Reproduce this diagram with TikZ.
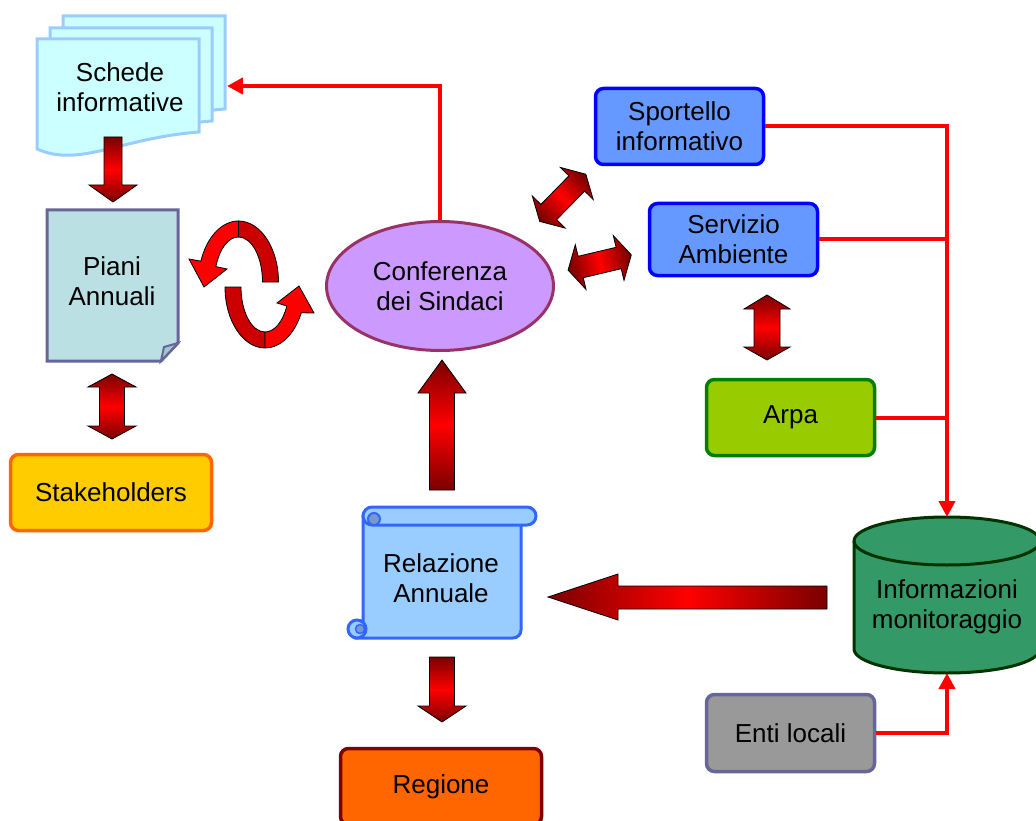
\documentclass[tikz,border=0pt]{standalone}
\usepackage{fontspec}
\setmainfont{Liberation Sans}
\usetikzlibrary{arrows.meta,shapes.geometric}
\definecolor{dkred}{HTML}{7A0000}
\definecolor{ribdark}{HTML}{CC0000}
\definecolor{schedefill}{HTML}{CCFFFF}
\definecolor{schededraw}{HTML}{99CCFF}
\definecolor{pianifill}{HTML}{BBE0E3}
\definecolor{pianifold}{HTML}{A3C7CE}
\definecolor{purpledraw}{HTML}{666699}
\definecolor{conffill}{HTML}{CC99FF}
\definecolor{confdraw}{HTML}{993366}
\definecolor{bluefill}{HTML}{6699FF}
\definecolor{arpafill}{HTML}{99CC00}
\definecolor{arpadraw}{HTML}{008000}
\definecolor{entifill}{HTML}{999999}
\definecolor{stakefill}{HTML}{FFCC00}
\definecolor{stakedraw}{HTML}{FF6600}
\definecolor{regfill}{HTML}{FF6600}
\definecolor{regdraw}{HTML}{800000}
\definecolor{relfill}{HTML}{99CCFF}
\definecolor{reldraw}{HTML}{3366FF}
\definecolor{relcurl}{HTML}{7799CC}
\definecolor{cylfill}{HTML}{339966}
\definecolor{cyldraw}{HTML}{003300}
\begin{document}
\begin{tikzpicture}[x=1pt,y=-1pt,line join=miter,
  lbl/.style={font=\fontsize{26}{30}\selectfont, align=center, inner sep=0pt},
  box/.style={lbl, draw, rounded corners=8pt, line width=3.5pt},
  redline/.style={draw=red, line width=4pt},
  redarrow/.style={redline, -{Triangle[length=16pt,width=16pt]}},
  blockV/.style={draw=black, line width=0.8pt, top color=dkred, bottom color=dkred, middle color=red},
  blockH/.style={draw=black, line width=0.8pt, left color=dkred, right color=dkred, middle color=red},
  ribbon/.style={draw=black, line width=0.8pt},
  page/.style={fill=schedefill, draw=schededraw, line width=3pt}
]
\useasboundingbox (0,0) rectangle (1036,821);

% ---- Schede informative (stack of pages)
\foreach \dx/\dy in {26/-23, 13/-11, 0/0}{
  \path[page, shift={(\dx,\dy)}] (37,39) -- (199,39) -- (199,132)
    .. controls (120,138) and (80,168) .. (37,149) -- cycle;
}
\node[lbl] (schede) at (120,87) {Schede\\informative};
\coordinate (schedeE) at (227,86);

% ---- Piani Annuali (document with folded corner)
\path[fill=pianifill, draw=purpledraw, line width=3pt]
  (47,210) -- (178,210) -- (178,343) -- (161,361) -- (47,361) -- cycle;
\path[fill=pianifold, draw=purpledraw, line width=2pt]
  (178,343) -- (164,347) -- (161,361) -- cycle;
\node[lbl] (piani) at (112,281) {Piani\\Annuali};

% ---- Stakeholders
\node[box, fill=stakefill, draw=stakedraw, minimum width=201, minimum height=76]
  (stake) at (111,492.5) {Stakeholders};

% ---- Conferenza dei Sindaci
\node[lbl, ellipse, fill=conffill, draw=confdraw, line width=3pt,
  minimum width=227, minimum height=129] (conf) at (440,286) {Conferenza\\dei Sindaci};

% ---- right boxes
\node[box, fill=bluefill, draw=blue, minimum width=168, minimum height=76]
  (sport) at (679.5,126.5) {Sportello\\informativo};
\node[box, fill=bluefill, draw=blue, minimum width=168, minimum height=72]
  (serv) at (733.5,239.5) {Servizio\\Ambiente};
\node[box, fill=arpafill, draw=arpadraw, minimum width=168, minimum height=76]
  (arpa) at (790.5,417.5) {Arpa};
\node[box, fill=entifill, draw=purpledraw, minimum width=168, minimum height=77]
  (enti) at (790.5,733) {Enti locali};
\node[box, fill=regfill, draw=regdraw, minimum width=201, minimum height=76]
  (reg) at (441,786.5) {Regione};

% ---- Informazioni monitoraggio (cylinder)
\path[fill=cylfill, draw=cyldraw, line width=3pt]
  (854,541) -- (854,649) arc[start angle=180, end angle=0, x radius=93, y radius=24]
  -- (1040,541) arc[start angle=0, end angle=-180, x radius=93, y radius=24] -- cycle;
\draw[cyldraw, line width=3pt] (854,541) arc[start angle=180, end angle=0, x radius=93, y radius=24];
\node[lbl] (cyl) at (947,607) {Informazioni\\monitoraggio};
\coordinate (cyltop) at (947,517);
\coordinate (cylbot) at (947,673);

% ---- Relazione Annuale (scroll)
\path[fill=relfill, draw=reldraw, line width=3pt]
  (363,516) -- (521,516) -- (521,630) arc[start angle=0, end angle=90, radius=8]
  -- (357,638) -- (363,628) -- cycle;
\path[fill=relfill, draw=reldraw, line width=3pt, rounded corners=9pt]
  (363,507) rectangle (536,525);
\path[fill=relcurl, draw=reldraw, line width=2pt] (374,519) circle[radius=6];
\path[fill=relfill, draw=reldraw, line width=3pt] (357,629) circle[radius=9];
\path[fill=relcurl, draw=reldraw, line width=1.5pt] (360,629) circle[radius=4.5];
\node[lbl] (rel) at (441,578) {Relazione\\Annuale};

% ---- thin red connectors
\draw[redarrow] (conf.north) |- (schedeE);
\draw[redarrow] (sport.east) -| (cyltop);
\draw[redline] (serv.east) -- (serv.east -| cyltop);
\draw[redline] (arpa.east) -- (arpa.east -| cyltop);
\draw[redarrow] (enti.east) -| (cylbot);

% ---- block arrows
\path[blockV] (104,137) -- (122,137) -- (122,185) -- (137,185) -- (113,202) -- (89,185) -- (104,185) -- cycle;
\path[blockV] (112,374) -- (136,387) -- (124.5,387) -- (124.5,426) -- (136,426) -- (112,439)
  -- (88,426) -- (99.5,426) -- (99.5,387) -- (88,387) -- cycle;
\path[blockV] (767,295) -- (790,309) -- (780,309) -- (780,347) -- (790,347) -- (767,360)
  -- (744,347) -- (754,347) -- (754,309) -- (744,309) -- cycle;
\path[blockV] (442,360) -- (466,393) -- (454.5,393) -- (454.5,490) -- (429.5,490) -- (429.5,393) -- (418,393) -- cycle;
\path[blockV] (429.5,657) -- (454.5,657) -- (454.5,706) -- (466,706) -- (442,722) -- (418,706) -- (429.5,706) -- cycle;
\path[blockH] (548,597) -- (618,574) -- (618,586) -- (827,586) -- (827,609) -- (618,609) -- (618,620) -- cycle;
\path[blockV, shading angle=-45] (585.8,174.2) -- (593.2,199.5) -- (584.6,191.1) -- (556.6,219.7)
  -- (565.2,228.1) -- (539.7,221.4) -- (532.3,196.0) -- (540.9,204.4) -- (568.9,175.8) -- (560.3,167.4) -- cycle;
\path[blockV, shading angle=-76.6] (631.3,254.9) -- (624.0,280.3) -- (621.2,268.7) -- (583.3,277.7)
  -- (586.0,289.4) -- (568.1,270.1) -- (575.3,244.7) -- (578.1,256.3) -- (616.1,247.3) -- (613.3,235.6) -- cycle;

% ---- circular ribbon arrows
\path[ribbon, fill=ribdark] (278.5,282) arc[start angle=0, end angle=-90, x radius=40, y radius=61]
  -- (238.5,237) arc[start angle=-90, end angle=0, x radius=24, y radius=45] -- cycle;
\path[ribbon, fill=red] (238.5,221) arc[start angle=-90, end angle=-160, x radius=40, y radius=61]
  -- (189,259) -- (204,287) -- (227,269)
  -- (215.9,266.6) arc[start angle=-160, end angle=-90, x radius=24, y radius=45] -- cycle;
\path[ribbon, fill=ribdark] (225,287) arc[start angle=180, end angle=90, x radius=40, y radius=61]
  -- (265,332) arc[start angle=90, end angle=180, x radius=24, y radius=45] -- cycle;
\path[ribbon, fill=red] (265,348) arc[start angle=90, end angle=25, x radius=40, y radius=61]
  -- (314,313) -- (299,286) -- (277,303)
  -- (286.8,306.0) arc[start angle=25, end angle=90, x radius=24, y radius=45] -- cycle;
\end{tikzpicture}
\end{document}
